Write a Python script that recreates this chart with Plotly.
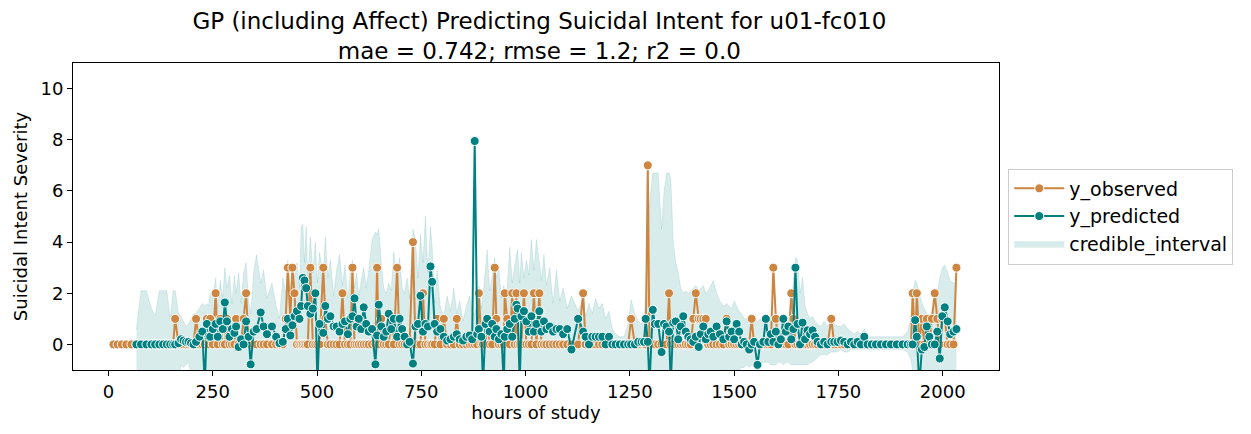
import plotly.graph_objects as go

# -------------------------------------------
# data
# -------------------------------------------
hours = [
    12, 22, 32, 43, 55, 67, 78, 91, 103, 112,
    122, 131, 140, 148, 155, 160, 168, 174, 180, 186,
    192, 198, 204, 210, 218, 225, 231, 236, 240, 244,
    250, 257, 262, 268, 274, 279, 284, 290, 296, 302,
    306, 312, 318, 324, 330, 336, 341, 348, 355, 365,
    372, 380, 392, 402, 410, 418, 425, 430, 436, 441,
    446, 452, 458, 462, 466, 470, 474, 478, 484, 490,
    496, 501, 506, 515, 520, 526, 532, 540, 547, 554,
    561, 567, 574, 580, 585, 590, 595, 600, 606, 612,
    618, 624, 632, 640, 644, 648, 654, 660, 666, 672,
    678, 684, 692, 698, 704, 710, 716, 722, 730, 736,
    742, 748, 754, 760, 766, 772, 776, 782, 788, 796,
    804, 812, 820, 828, 835, 842, 850, 858, 866, 872,
    878, 884, 888, 894, 898, 904, 908, 914, 920, 926,
    930, 936, 942, 948, 950, 956, 962, 968, 974, 978,
    981, 986, 990, 996, 1002, 1008, 1014, 1020, 1026, 1033,
    1038, 1044, 1050, 1058, 1066, 1074, 1082, 1090, 1100, 1110,
    1126, 1138, 1144, 1152, 1160, 1168, 1176, 1184, 1192, 1200,
    1208, 1216, 1226, 1236, 1246, 1253, 1262, 1270, 1278, 1284,
    1288, 1293, 1297, 1305, 1310, 1318, 1326, 1332, 1338, 1344,
    1348, 1354, 1360, 1366, 1372, 1378, 1384, 1390, 1396, 1402,
    1408, 1415, 1420, 1426, 1432, 1438, 1444, 1450, 1458, 1466,
    1474, 1482, 1488, 1494, 1500, 1506, 1512, 1518, 1524, 1530,
    1536, 1542, 1548, 1556, 1562, 1570, 1576, 1582, 1588, 1594,
    1600, 1606, 1612, 1618, 1624, 1630, 1637, 1642, 1647, 1652,
    1658, 1664, 1670, 1676, 1682, 1688, 1694, 1700, 1708, 1716,
    1724, 1733, 1740, 1748, 1756, 1764, 1772, 1780, 1788, 1796,
    1804, 1812, 1820, 1830, 1840, 1852, 1864, 1876, 1890, 1904,
    1916, 1924, 1928, 1934, 1938, 1944, 1950, 1956, 1962, 1968,
    1974, 1981, 1987, 1993, 1999, 2005, 2012, 2018, 2026, 2033,
]

y_observed = [
    0, 0, 0, 0, 0, 0, 0, 0, 0, 0,
    0, 0, 0, 0, 0, 1, 0, 0, 0, 0,
    0, 0, 0, 1, 0, 0, 0, 1, 0, 1,
    0, 2, 0, 1, 0, 0, 1, 0, 0, 0,
    1, 0, 0, 1, 2, 0, 0, 0, 0, 0,
    0, 0, 0, 0, 0, 0, 1, 3, 1, 3,
    2, 0, 0, 0, 0, 0, 0, 0, 3, 0,
    0, 0, 0, 3, 1, 0, 0, 0, 0, 0,
    2, 0, 0, 0, 3, 0, 0, 0, 0, 0,
    0, 0, 0, 0, 3, 0, 1, 0, 0, 0,
    1, 0, 3, 0, 0, 0, 0, 0, 4, 0,
    0, 0, 2, 0, 0, 0, 0, 0, 1, 0,
    1, 0, 0, 0, 1, 0, 0, 0, 0, 0,
    0, 0, 2, 0, 0, 0, 1, 0, 0, 3,
    1, 0, 0, 0, 2, 1, 0, 2, 0, 2,
    0, 0, 0, 2, 0, 0, 0, 2, 0, 2,
    0, 0, 0, 0, 0, 0, 0, 0, 0, 0,
    0, 2, 0, 0, 0, 0, 0, 0, 0, 0,
    0, 0, 0, 0, 0, 1, 0, 0, 0, 0,
    0, 7, 0, 0, 0, 0, 0, 0, 0, 2,
    0, 0, 0, 0, 0, 0, 0, 0, 0, 1,
    2, 1, 1, 1, 1, 0, 0, 0, 0, 0,
    0, 1, 0, 0, 0, 0, 0, 0, 0, 0,
    0, 1, 0, 0, 0, 0, 0, 0, 0, 3,
    1, 0, 0, 0, 0, 0, 2, 1, 0, 0,
    0, 0, 0, 0, 0, 0, 0, 0, 0, 0,
    0, 1, 0, 0, 0, 0, 0, 0, 0, 0,
    0, 0, 0, 0, 0, 0, 0, 0, 0, 0,
    0, 0, 2, 0, 2, 0, 1, 0, 1, 0,
    1, 2, 1, 0, 1, 1, 0, 0, 0, 3,
]

y_predicted = [
    None, None, None, None, None, 0.0, 0.0, 0.0, 0.0, 0.0,
    0.0, 0.0, 0.0, 0.0, 0.0, 0.0, 0.05, 0.2, 0.15, 0.1,
    0.1, 0.05, 0.0, 0.1, 0.3, 0.5, -1.6, 0.8, 0.3, 0.3,
    0.6, 0.8, 0.3, 0.9, 0.6, 1.64, 0.9, 0.3, 0.6, 0.45,
    0.7, -0.1, 0.2, 0.0, 0.9, 0.3, -0.78, 0.5, 0.6, 1.25,
    0.7, 0.4, 0.7, 0.3, 0.05, 0.1, 0.6, 1.0, 0.35, 0.75,
    1.1, 1.3, 1.0, 1.5, 2.6, 2.5, 2.2, 1.5, 1.2, 1.4,
    2.0, -1.6, 0.8, 0.45, 1.5, 1.0, 1.1, 0.7, 0.7, 0.5,
    0.8, 0.9, 0.4, 1.0, 1.1, 1.8, 0.7, 1.0, 0.6, 1.45,
    0.8, 0.5, 0.6, -0.78, 0.35, 1.55, 0.7, 0.3, 0.5, 1.2,
    0.6, 1.0, 0.3, 1.0, 0.6, 0.3, 0.0, 0.1, -0.75, 0.7,
    0.8, 1.9, 0.5, 0.8, 0.7, 3.05, 2.45, 0.8, 0.5, 0.6,
    0.3, 0.15, 0.2, 0.3, 0.4, 0.2, 0.15, 0.3, 0.35, 0.2,
    7.95, 0.4, 0.6, 0.3, -1.6, 0.8, 1.0, 0.5, 0.8, 0.3,
    0.6, 0.2, 0.4, -1.6, 0.3, 0.6, 0.8, 0.3, 1.0, 1.55,
    1.4, -1.6, 1.1, 1.3, 0.9, 0.5, 1.1, 0.5, 0.8, 1.3,
    0.5, 0.9, 0.6, 0.7, 0.5, 0.6, 0.6, 0.4, 0.6, -0.2,
    1.0, 0.5, 0.3, 0.0, 0.3, 0.3, 0.3, 0.3, 0.0, 0.3,
    0.0, 0.0, 0.0, 0.0, 0.0, 0.0, 0.0, 0.1, 0.1, 0.1,
    1.0, 0.1, -1.6, 1.35, 0.8, 0.8, -0.3, 0.8, 0.7, 0.5,
    -1.6, 0.85, 0.9, 0.2, 0.7, 1.1, 0.5, 0.3, 0.2, 0.1,
    0.3, -0.1, 0.4, 0.7, 0.2, 0.4, 0.5, 0.3, 0.7, 0.4,
    0.2, 0.9, 0.3, 0.5, 0.2, 0.8, 0.5, 0.0, 0.1, 0.0,
    -0.2, 0.0, 0.1, -0.8, 0.0, 0.1, 1.0, 0.1, 0.4, 0.1,
    0.5, 0.0, 0.2, 1.0, 0.5, 0.7, 0.2, 0.6, 3.0, 0.8,
    0.0, 0.85, 0.2, 0.55, 0.4, 0.55, 0.3, 0.1, 0.0, 0.1,
    0.0, 0.1, 0.1, 0.1, 0.15, 0.1, 0.0, 0.1, 0.0, 0.1,
    0.0, 0.3, 0.0, 0.0, 0.0, 0.0, 0.0, 0.0, 0.0, 0.0,
    0.0, 0.0, 0.0, 0.95, 0.3, -1.6, -0.2, -0.1, 0.7, 0.3,
    0.0, 0.0, 0.5, -0.55, 1.1, 1.45, 0.9, 0.4, 0.5, 0.6,
]

ci_lower = [
    None, None, None, None, None, -1.6, -2.0, -2.0, -2.0, -2.0,
    -2.0, -2.0, -2.0, -2.0, -2.0, -2.0, -1.5, -0.8, -0.9, -0.8,
    -0.7, -1.2, -1.5, -1.8, -2.0, -2.0, -2.5, -2.0, -2.0, -2.0,
    -2.0, -2.0, -2.0, -2.0, -2.0, -2.0, -2.0, -2.0, -2.0, -2.0,
    -2.0, -2.0, -2.0, -2.0, -2.0, -2.0, -2.5, -2.0, -2.0, -2.0,
    -2.0, -2.0, -2.0, -2.0, -1.5, -2.0, -2.0, -2.0, -2.0, -2.0,
    -2.0, -2.0, -2.0, -2.0, -1.5, -1.5, -1.5, -2.0, -2.0, -2.0,
    -1.5, -2.5, -2.0, -2.0, -2.0, -2.0, -2.0, -2.0, -2.0, -2.0,
    -2.0, -2.0, -2.0, -2.0, -2.0, -2.0, -2.0, -2.0, -2.0, -2.0,
    -2.0, -2.0, -2.0, -2.5, -2.0, -2.0, -2.0, -2.0, -2.0, -2.0,
    -2.0, -2.0, -2.0, -2.0, -2.0, -2.0, -2.0, -2.0, -2.5, -2.0,
    -2.0, -2.0, -2.0, -2.0, -2.0, -1.5, -1.5, -2.0, -2.0, -2.0,
    -2.0, -2.0, -2.0, -2.0, -2.0, -2.0, -2.0, -2.0, -2.0, -2.0,
    -2.0, -2.0, -2.0, -2.0, -2.0, -2.0, -2.0, -2.0, -2.0, -2.0,
    -2.0, -2.0, -2.0, -2.0, -2.0, -2.0, -2.0, -2.0, -2.0, -2.0,
    -2.0, -2.0, -2.0, -2.0, -2.0, -2.0, -2.0, -2.0, -2.0, -2.0,
    -2.0, -2.0, -2.0, -2.0, -2.0, -2.0, -2.0, -2.0, -2.0, -2.0,
    -2.0, -2.0, -2.0, -2.0, -2.0, -2.0, -2.0, -2.0, -2.0, -2.0,
    -1.5, -1.2, -1.2, -1.2, -1.5, -2.0, -2.0, -2.0, -2.0, -2.0,
    -2.0, -2.0, -2.0, -2.0, -2.0, -2.0, -2.0, -2.0, -2.0, -2.0,
    -2.0, -2.0, -2.0, -2.0, -2.0, -2.0, -2.0, -2.0, -2.0, -2.0,
    -2.0, -2.0, -2.0, -2.0, -2.0, -2.0, -1.8, -1.5, -1.2, -1.0,
    -1.0, -1.0, -1.2, -1.0, -1.0, -1.0, -1.0, -0.9, -0.9, -0.8,
    -0.9, -0.8, -0.8, -1.2, -0.8, -0.7, -0.7, -0.7, -0.8, -0.8,
    -0.8, -0.7, -0.7, -0.8, -0.7, -0.7, -0.8, -0.8, -0.8, -0.8,
    -0.8, -0.8, -0.8, -0.8, -0.7, -0.7, -0.6, -0.5, -0.4, -0.4,
    -0.4, -0.3, -0.3, -0.3, -0.2, -0.3, -0.3, -0.2, -0.2, -0.2,
    -0.2, -0.2, -0.2, -0.2, -0.2, -0.2, -0.2, -0.2, -0.2, -0.2,
    -0.3, -0.6, -1.0, -1.2, -1.5, -2.5, -2.0, -1.8, -1.5, -1.2,
    -1.0, -1.5, -1.5, -1.5, -1.2, -1.0, -1.0, -1.0, -1.0, -1.0,
]

ci_upper = [
    None, None, None, None, None, 0.6, 2.1, 2.1, 1.4, 1.1,
    2.1, 2.1, 2.1, 1.0, 2.1, 2.1, 1.2, 1.1, 0.9, 0.7,
    0.8, 1.0, 1.2, 1.2, 1.4, 1.6, 1.5, 1.6, 1.5, 2.0,
    1.9, 2.6, 1.4, 2.5, 1.8, 3.0, 2.2, 2.7, 1.6, 2.7,
    2.0, 2.8, 1.6, 2.8, 3.2, 1.7, 1.2, 2.8, 3.5, 2.4,
    2.9, 1.8, 2.4, 1.5, 1.0, 2.6, 2.0, 3.3, 2.1, 3.0,
    2.6, 3.2, 2.2, 4.6, 4.7, 3.2, 4.6, 2.5, 4.2, 2.8,
    4.0, 2.4, 3.6, 2.7, 4.2, 2.6, 3.3, 1.9, 2.9, 3.5,
    2.3, 3.1, 1.8, 2.9, 3.3, 2.2, 2.8, 1.9, 2.5, 3.0,
    2.2, 2.9, 4.1, 4.4, 4.3, 4.5, 3.2, 2.2, 2.0, 2.4,
    2.1, 3.6, 2.6, 3.4, 2.2, 2.0, 2.6, 1.8, 4.5, 4.1,
    2.6, 4.3, 3.2, 5.0, 2.8, 4.6, 3.8, 1.6, 2.9, 1.4,
    1.1, 1.9, 1.3, 2.2, 1.2, 1.7, 0.9, 1.5, 1.9, 1.3,
    1.2, 1.6, 2.3, 1.4, 1.9, 2.9, 3.7, 2.1, 2.6, 3.4,
    2.6, 3.0, 1.8, 2.3, 1.5, 2.2, 3.8, 2.4, 3.2, 3.5,
    3.7, 2.4, 3.6, 2.6, 3.3, 2.7, 4.1, 2.9, 4.1, 3.2,
    2.5, 3.5, 2.3, 3.0, 1.6, 2.9, 1.7, 2.2, 1.4, 1.9,
    1.3, 1.8, 1.1, 1.6, 1.2, 1.8, 1.4, 1.6, 1.0, 1.3,
    0.6, 0.4, 0.3, 0.3, 0.8, 1.75, 1.2, 0.9, 0.8, 1.0,
    2.0, 4.0, 5.5, 6.7, 6.7, 6.7, 4.5, 6.0, 6.7, 6.7,
    6.5, 4.0, 3.2, 2.8, 2.2, 2.0, 2.1, 2.0, 2.1, 2.2,
    2.3, 2.1, 2.2, 2.3, 2.0, 2.1, 2.3, 2.5, 2.0, 1.7,
    1.5, 1.6, 1.5, 1.4, 1.7, 1.5, 1.3, 1.2, 1.0, 1.0,
    0.9, 1.0, 1.1, 0.9, 1.0, 0.9, 1.2, 1.0, 0.9, 1.1,
    1.0, 0.9, 0.8, 1.0, 0.9, 1.0, 1.5, 2.5, 3.4, 3.3,
    2.0, 2.6, 1.5, 1.2, 1.0, 1.1, 0.9, 0.8, 0.7, 0.9,
    0.7, 1.0, 0.8, 0.7, 0.7, 0.8, 0.6, 0.5, 0.4, 0.5,
    0.4, 0.6, 0.3, 0.3, 0.3, 0.3, 0.3, 0.3, 0.3, 0.3,
    0.5, 1.0, 2.0, 2.5, 2.4, 2.0, 1.6, 1.4, 1.2, 1.0,
    1.2, 1.6, 2.0, 2.6, 3.0, 3.1, 2.8, 2.5, 2.4, 2.4,
]

x_ticks = [0, 250, 500, 750, 1000, 1250, 1500, 1750, 2000]
y_ticks = [0, 2, 4, 6, 8, 10]

OBS_COLOR = "#CD853F"
PRED_COLOR = "#008080"
FONT = "DejaVu Sans"

# band only where the model gave a prediction
band_x = [h for h, lo in zip(hours, ci_lower) if lo is not None]
band_lo = [lo for lo in ci_lower if lo is not None]
band_hi = [hi for hi in ci_upper if hi is not None]

fig = go.Figure()

# -------------------------------------------
# 1. credible interval (drawn first, underneath)
# -------------------------------------------
fig.add_trace(go.Scatter(
    x=band_x, y=band_lo,
    mode="lines",
    line=dict(color="rgba(0,128,128,0.15)", width=0.8),
    showlegend=False, hoverinfo="skip"
))
fig.add_trace(go.Scatter(
    x=band_x, y=band_hi,
    mode="lines",
    line=dict(color="rgba(0,128,128,0.15)", width=0.8),
    fill="tonexty",
    fillcolor="rgba(0,128,128,0.15)",
    name="credible_interval",
    legendrank=3
))

# -------------------------------------------
# 2. observed and predicted lines
# -------------------------------------------
fig.add_trace(go.Scatter(
    x=hours, y=y_observed,
    mode="lines+markers",
    name="y_observed",
    line=dict(color=OBS_COLOR, width=2),
    marker=dict(color=OBS_COLOR, size=9, line=dict(color="white", width=1)),
    legendrank=1
))
fig.add_trace(go.Scatter(
    x=hours, y=y_predicted,
    mode="lines+markers",
    name="y_predicted",
    connectgaps=False,
    line=dict(color=PRED_COLOR, width=2),
    marker=dict(color=PRED_COLOR, size=9, line=dict(color="white", width=1)),
    legendrank=2
))

# page body keeps an 8px margin, so the figure is 8px smaller each way
fig.update_layout(
    width=1243, height=426,
    margin=dict(l=62, r=252, t=55, b=64),
    paper_bgcolor="white",
    plot_bgcolor="white",
    font=dict(family=FONT, size=18, color="black"),
    title=dict(
        text="GP (including Affect) Predicting Suicidal Intent for u01-fc010"
             "<br>mae = 0.742; rmse = 1.2; r2 = 0.0",
        font=dict(family=FONT, size=23, color="black"),
        x=0.4275, xanchor="center",
        y=0.95, yanchor="middle",
    ),
    legend=dict(
        x=1.01, y=0.5, xanchor="left", yanchor="middle",
        traceorder="normal",
        itemwidth=50,
        bordercolor="#cccccc", borderwidth=1,
        bgcolor="white",
        font=dict(family=FONT, size=19, color="black"),
    ),
    xaxis=dict(
        range=[-85, 2135],
        tickvals=x_ticks,
        showgrid=False, zeroline=False,
        showline=True, linecolor="black", linewidth=1, mirror=True,
        ticks="outside", ticklen=5, tickcolor="black",
        tickfont=dict(size=18),
        title=dict(text="hours of study", font=dict(size=18), standoff=4),
    ),
    yaxis=dict(
        range=[-1, 11],
        tickvals=y_ticks,
        showgrid=False, zeroline=False,
        showline=True, linecolor="black", linewidth=1, mirror=True,
        ticks="outside", ticklen=5, tickcolor="black",
        tickfont=dict(size=18),
        title=dict(text="Suicidal Intent Severity", font=dict(size=18), standoff=8),
    ),
)

fig.write_html("out.html")
